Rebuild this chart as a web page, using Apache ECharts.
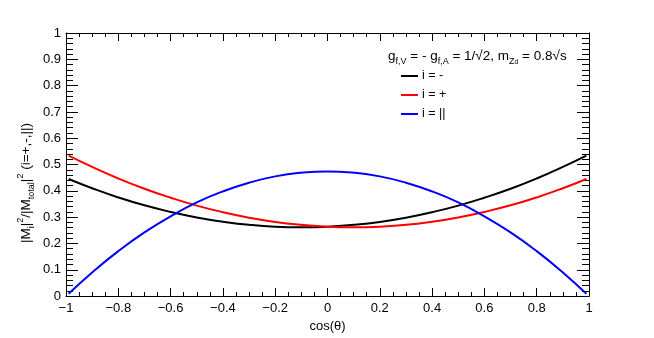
<!DOCTYPE html>
<html>
<head>
<meta charset="utf-8">
<script src="https://cdn.jsdelivr.net/npm/echarts@6/dist/echarts.min.js"></script>
<style>
  html, body { margin: 0; padding: 0; background: #fff; }
  #wrap { position: relative; width: 654px; height: 338px; }
  #container, #overlay { position: absolute; left: 0; top: 0; width: 654px; height: 338px; }
  #overlay { pointer-events: none; }
</style>
</head>
<body>
<div id="wrap">
  <div id="container"></div>
  <div id="overlay"></div>
</div>
<script>
// cos(theta) sample points
const cosTheta = [-0.99, -0.9, -0.8, -0.7, -0.6, -0.5, -0.4, -0.3, -0.2, -0.1, 0,
  0.1, 0.2, 0.3, 0.4, 0.5, 0.6, 0.7, 0.8, 0.9, 0.99];
const minusVals = [0.445, 0.410, 0.375, 0.345, 0.320, 0.299, 0.283, 0.271, 0.264, 0.262, 0.264,
  0.271, 0.282, 0.298, 0.319, 0.344, 0.374, 0.408, 0.447, 0.491, 0.534];
const plusVals = [0.534, 0.491, 0.447, 0.408, 0.374, 0.344, 0.319, 0.298, 0.282, 0.271, 0.264,
  0.262, 0.264, 0.271, 0.283, 0.299, 0.320, 0.345, 0.375, 0.410, 0.445];
const paraVals = [0.009, 0.090, 0.171, 0.242, 0.303, 0.356, 0.398, 0.431, 0.455, 0.469, 0.474,
  0.469, 0.455, 0.431, 0.398, 0.356, 0.303, 0.242, 0.171, 0.090, 0.009];
const seriesNames = ['i = -', 'i = +', 'i = ||'];
const seriesColors = ['#000000', '#ff0000', '#0000ff'];

const font = 'Liberation Sans, Arial, Helvetica, sans-serif';
const grid = { left: 66, right: 65, top: 33, bottom: 35 };

function pairs(vals) {
  return cosTheta.map((x, i) => [x, vals[i]]);
}
const minusSign = v => String(+v.toFixed(2)).replace('-', '\u2212');

// ticks use negative length so they point into the frame (ROOT style)
function xAxisDef(pos) {
  return {
    type: 'value', min: -1, max: 1, interval: 0.2, position: pos,
    axisLine: { show: true, onZero: false, lineStyle: { color: '#000', width: 1 } },
    splitLine: { show: false },
    axisTick: { show: true, inside: false, length: -8, lineStyle: { color: '#000', width: 1 } },
    minorTick: { show: true, splitNumber: 4, length: -4, lineStyle: { color: '#000', width: 1 } },
    axisLabel: pos === 'bottom'
      ? { margin: 6, fontFamily: font, fontSize: 13, color: '#000', formatter: minusSign }
      : { show: false },
  };
}
function yAxisDef(pos) {
  return {
    type: 'value', min: 0, max: 1, interval: 0.1, position: pos,
    axisLine: { show: true, onZero: false, lineStyle: { color: '#000', width: 1 } },
    splitLine: { show: false },
    axisTick: { show: true, inside: false, length: -12, lineStyle: { color: '#000', width: 1 } },
    minorTick: { show: true, splitNumber: 5, length: -7, lineStyle: { color: '#000', width: 1 } },
    axisLabel: pos === 'left'
      ? { margin: 5, fontFamily: font, fontSize: 13, color: '#000', formatter: minusSign }
      : { show: false },
  };
}

const xBottom = xAxisDef('bottom');
xBottom.name = 'cos(θ)';
xBottom.nameLocation = 'middle';
xBottom.nameGap = 23;
xBottom.nameTextStyle = { fontFamily: font, fontSize: 13, color: '#000' };

// base chart: frame, ticks and curves
const myChart = echarts.init(document.getElementById('container'));
const option = {
  backgroundColor: '#fff',
  animation: false,
  textStyle: { fontFamily: font },
  grid: grid,
  xAxis: [xBottom, xAxisDef('top')],
  yAxis: [yAxisDef('left'), yAxisDef('right')],
  series: [minusVals, plusVals, paraVals].map((vals, i) => ({
    name: seriesNames[i],
    type: 'line',
    smooth: true,
    symbol: 'none',
    color: seriesColors[i],
    lineStyle: { color: seriesColors[i], width: 2 },
    data: pairs(vals),
  })),
};
myChart.setOption(option, true);

// overlay chart: header text, legend and y title
const overlay = echarts.init(document.getElementById('overlay'));
overlay.setOption({
  backgroundColor: 'transparent',
  animation: false,
  title: {
    left: 388,
    top: 46,
    padding: 0,
    text: 'g{s|f,V} = - g{s|f,A} = 1/√2, m{s|Z}{ss|d} = 0.8√s',
    textStyle: {
      fontFamily: font, fontSize: 13.5, fontWeight: 'normal', color: '#000', lineHeight: 20,
      rich: {
        s: { fontFamily: font, fontSize: 9, verticalAlign: 'bottom', lineHeight: 20 },
        ss: { fontFamily: font, fontSize: 7, verticalAlign: 'bottom', lineHeight: 16 },
      },
    },
  },
  legend: {
    orient: 'vertical',
    left: 401,
    top: 69,
    padding: 0,
    icon: 'rect',
    itemWidth: 17,
    itemHeight: 2,
    itemGap: 5,
    data: seriesNames,
    textStyle: { fontFamily: font, fontSize: 12.5, color: '#000', lineHeight: 14, padding: [0, 0, 0, -1] },
  },
  graphic: [{
    type: 'text',
    x: 26,
    y: 183,
    rotation: Math.PI / 2,
    style: {
      text: '|M{sub|i}|{sup|2}/|M{sub|total}|{sup|2} (i=+,-,||)',
      fontFamily: font, fontSize: 13.5, fill: '#000', lineHeight: 20,
      align: 'center', verticalAlign: 'middle',
      rich: {
        sub: { fontFamily: font, fontSize: 9, verticalAlign: 'bottom', lineHeight: 20 },
        sup: { fontFamily: font, fontSize: 9, verticalAlign: 'top', lineHeight: 20 },
      },
    },
  }],
  grid: grid,
  xAxis: { type: 'value', min: -1, max: 1, show: false },
  yAxis: { type: 'value', min: 0, max: 1, show: false },
  series: seriesNames.map((name, i) => ({
    name: name,
    type: 'line',
    symbol: 'none',
    color: seriesColors[i],
    lineStyle: { color: seriesColors[i], width: 2 },
    data: [],
  })),
});
</script>
</body>
</html>
